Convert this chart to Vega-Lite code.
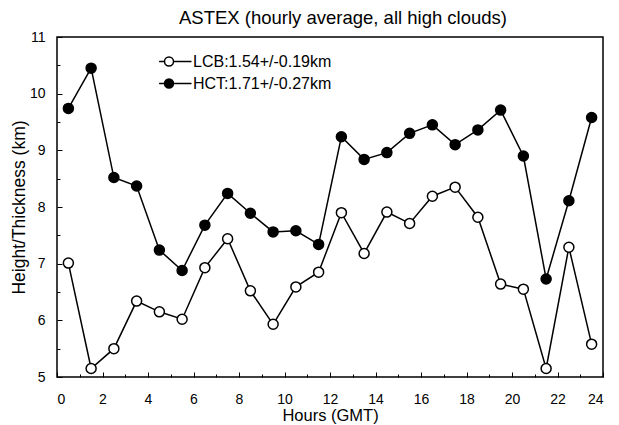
{
  "$schema": "https://vega.github.io/schema/vega-lite/v6.json",
  "width": 546,
  "height": 340,
  "autosize": {"type": "none"},
  "padding": {"left": 57, "top": 37, "right": 16, "bottom": 48},
  "background": "white",
  "title": {"text": "ASTEX (hourly average, all high clouds)", "font": "Liberation Sans", "fontSize": 18.5, "fontWeight": "normal", "color": "black", "offset": 3, "anchor": "middle", "dx": 13},
  "config": {
    "view": {"stroke": "black", "strokeWidth": 1.5},
    "font": "Liberation Sans"
  },
  "data": {"values": [
    {"hour": 0.5, "series": "LCB:1.54+/-0.19km", "km": 7.01},
    {"hour": 1.5, "series": "LCB:1.54+/-0.19km", "km": 5.15},
    {"hour": 2.5, "series": "LCB:1.54+/-0.19km", "km": 5.50},
    {"hour": 3.5, "series": "LCB:1.54+/-0.19km", "km": 6.34},
    {"hour": 4.5, "series": "LCB:1.54+/-0.19km", "km": 6.15},
    {"hour": 5.5, "series": "LCB:1.54+/-0.19km", "km": 6.02},
    {"hour": 6.5, "series": "LCB:1.54+/-0.19km", "km": 6.93},
    {"hour": 7.5, "series": "LCB:1.54+/-0.19km", "km": 7.44},
    {"hour": 8.5, "series": "LCB:1.54+/-0.19km", "km": 6.52},
    {"hour": 9.5, "series": "LCB:1.54+/-0.19km", "km": 5.93},
    {"hour": 10.5, "series": "LCB:1.54+/-0.19km", "km": 6.59},
    {"hour": 11.5, "series": "LCB:1.54+/-0.19km", "km": 6.85},
    {"hour": 12.5, "series": "LCB:1.54+/-0.19km", "km": 7.90},
    {"hour": 13.5, "series": "LCB:1.54+/-0.19km", "km": 7.18},
    {"hour": 14.5, "series": "LCB:1.54+/-0.19km", "km": 7.91},
    {"hour": 15.5, "series": "LCB:1.54+/-0.19km", "km": 7.71},
    {"hour": 16.5, "series": "LCB:1.54+/-0.19km", "km": 8.19},
    {"hour": 17.5, "series": "LCB:1.54+/-0.19km", "km": 8.35},
    {"hour": 18.5, "series": "LCB:1.54+/-0.19km", "km": 7.82},
    {"hour": 19.5, "series": "LCB:1.54+/-0.19km", "km": 6.64},
    {"hour": 20.5, "series": "LCB:1.54+/-0.19km", "km": 6.55},
    {"hour": 21.5, "series": "LCB:1.54+/-0.19km", "km": 5.15},
    {"hour": 22.5, "series": "LCB:1.54+/-0.19km", "km": 7.29},
    {"hour": 23.5, "series": "LCB:1.54+/-0.19km", "km": 5.58},
    {"hour": 0.5, "series": "HCT:1.71+/-0.27km", "km": 9.74},
    {"hour": 1.5, "series": "HCT:1.71+/-0.27km", "km": 10.45},
    {"hour": 2.5, "series": "HCT:1.71+/-0.27km", "km": 8.52},
    {"hour": 3.5, "series": "HCT:1.71+/-0.27km", "km": 8.37},
    {"hour": 4.5, "series": "HCT:1.71+/-0.27km", "km": 7.24},
    {"hour": 5.5, "series": "HCT:1.71+/-0.27km", "km": 6.88},
    {"hour": 6.5, "series": "HCT:1.71+/-0.27km", "km": 7.68},
    {"hour": 7.5, "series": "HCT:1.71+/-0.27km", "km": 8.24},
    {"hour": 8.5, "series": "HCT:1.71+/-0.27km", "km": 7.89},
    {"hour": 9.5, "series": "HCT:1.71+/-0.27km", "km": 7.56},
    {"hour": 10.5, "series": "HCT:1.71+/-0.27km", "km": 7.58},
    {"hour": 11.5, "series": "HCT:1.71+/-0.27km", "km": 7.34},
    {"hour": 12.5, "series": "HCT:1.71+/-0.27km", "km": 9.24},
    {"hour": 13.5, "series": "HCT:1.71+/-0.27km", "km": 8.84},
    {"hour": 14.5, "series": "HCT:1.71+/-0.27km", "km": 8.96},
    {"hour": 15.5, "series": "HCT:1.71+/-0.27km", "km": 9.30},
    {"hour": 16.5, "series": "HCT:1.71+/-0.27km", "km": 9.45},
    {"hour": 17.5, "series": "HCT:1.71+/-0.27km", "km": 9.10},
    {"hour": 18.5, "series": "HCT:1.71+/-0.27km", "km": 9.36},
    {"hour": 19.5, "series": "HCT:1.71+/-0.27km", "km": 9.71},
    {"hour": 20.5, "series": "HCT:1.71+/-0.27km", "km": 8.90},
    {"hour": 21.5, "series": "HCT:1.71+/-0.27km", "km": 6.73},
    {"hour": 22.5, "series": "HCT:1.71+/-0.27km", "km": 8.11},
    {"hour": 23.5, "series": "HCT:1.71+/-0.27km", "km": 9.58}
  ]},
  "encoding": {
    "x": {"field": "hour", "type": "quantitative",
      "scale": {"domain": [0, 24], "nice": false, "zero": false},
      "axis": {"title": "Hours (GMT)", "titleFont": "Liberation Sans", "titleFontSize": 16.5, "titleFontWeight": "normal", "titleColor": "black", "titlePadding": 1,
        "values": [0,1,2,3,4,5,6,7,8,9,10,11,12,13,14,15,16,17,18,19,20,21,22,23,24],
        "labelExpr": "datum.value % 2 == 0 ? format(datum.value, 'd') : ''",
        "tickSize": {"condition": {"test": "datum.value % 2 == 0", "value": -5}, "value": -3},
        "tickColor": "black", "tickWidth": 1, "domain": false, "grid": false,
        "labelFont": "Liberation Sans", "labelFontSize": 14, "labelColor": "black", "labelPadding": 20}},
    "y": {"field": "km", "type": "quantitative",
      "scale": {"domain": [5, 11], "nice": false, "zero": false},
      "axis": {"title": "Height/Thickness (km)", "titleFont": "Liberation Sans", "titleFontSize": 17.5, "titleFontWeight": "normal", "titleColor": "black", "titlePadding": 1,
        "values": [5,5.5,6,6.5,7,7.5,8,8.5,9,9.5,10,10.5,11],
        "labelExpr": "datum.value % 1 == 0 ? format(datum.value, 'd') : ''",
        "tickSize": {"condition": {"test": "datum.value % 1 == 0", "value": -5}, "value": -3},
        "tickColor": "black", "tickWidth": 1, "domain": false, "grid": false,
        "labelFont": "Liberation Sans", "labelFontSize": 14, "labelColor": "black", "labelPadding": 17}}
  },
  "layer": [
    {"mark": {"type": "line", "color": "black", "strokeWidth": 1.5},
     "encoding": {"detail": {"field": "series"}}},
    {"mark": {"type": "point", "shape": "circle", "size": 100, "stroke": "black", "strokeWidth": 1.5, "opacity": 1},
     "encoding": {
       "fill": {"field": "series", "type": "nominal",
         "scale": {"domain": ["LCB:1.54+/-0.19km", "HCT:1.71+/-0.27km"], "range": ["white", "black"]},
         "legend": {"title": null, "orient": "none", "legendX": 104, "legendY": 16.5, "padding": 0,
           "symbolType": "M-2.2,0H-1M1,0H5M-1,0A1,1 0 1,1 1,0A1,1 0 1,1 -1,0Z",
           "symbolSize": 81, "symbolStrokeColor": "black", "symbolStrokeWidth": 1.5, "symbolOpacity": 1,
           "labelFont": "Liberation Sans", "labelFontSize": 16, "labelColor": "black", "labelOffset": 16,
           "rowPadding": 6}}
     }}
  ]
}
